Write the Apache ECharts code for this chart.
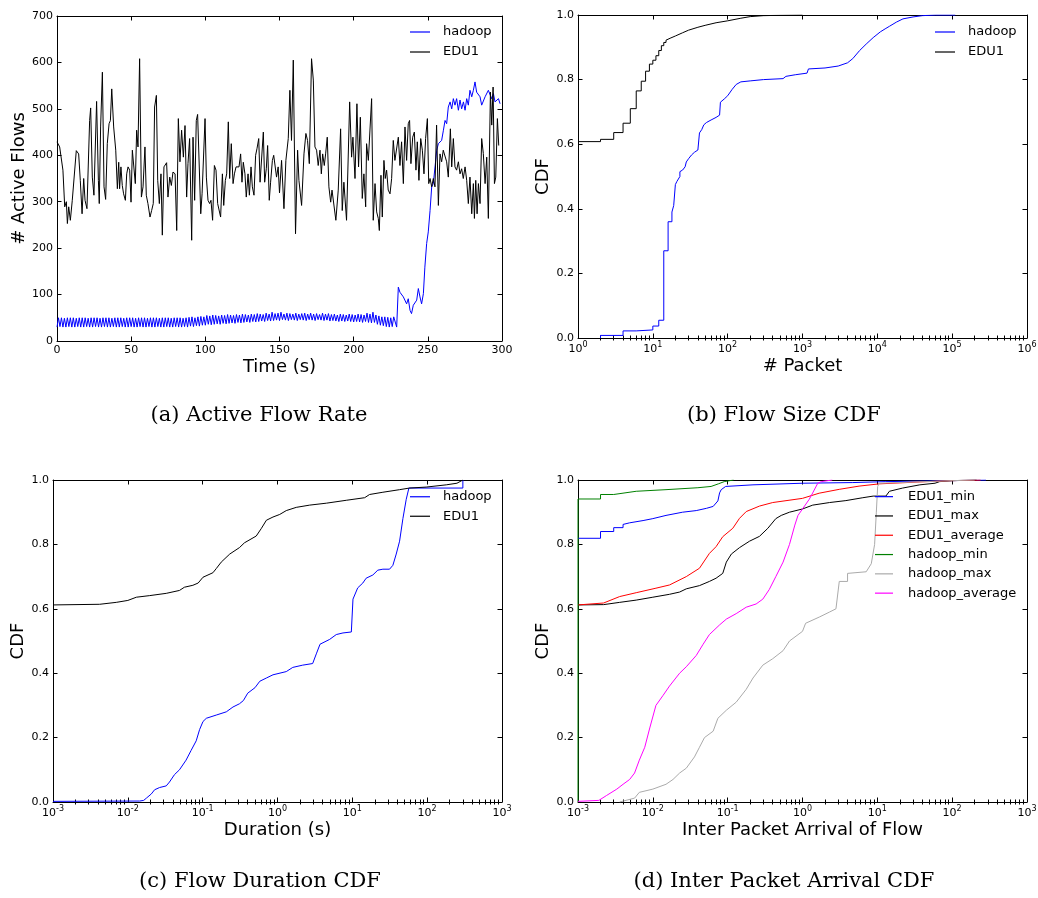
<!DOCTYPE html>
<html><head><meta charset="utf-8">
<script src="https://cdn.jsdelivr.net/npm/echarts@6/dist/echarts.min.js"></script>
<style>html,body{margin:0;padding:0;background:#fff}#c{width:1038px;height:898px}</style>
</head><body><div id="c"></div>
<script>
// ---------------- DATA ----------------
const captions = ['(a) Active Flow Rate', '(b) Flow Size CDF', '(c) Flow Duration CDF', '(d) Inter Packet Arrival CDF'];
const axisNames = {
  a: ['Time (s)', '# Active Flows'],
  b: ['# Packet', 'CDF'],
  c: ['Duration (s)', 'CDF'],
  d: ['Inter Packet Arrival of Flow', 'CDF']
};
const namesAB = ['hadoop', 'EDU1'];
const namesD = ['EDU1_min', 'EDU1_max', 'EDU1_average', 'hadoop_min', 'hadoop_max', 'hadoop_average'];

// (a) hadoop active flows, one value per second for t = 0..229
const hadoopHead = [
  30,50,31,50,30,49,30,50,31,50, 30,50,30,49,31,50,30,50,30,50,
  31,49,30,50,30,50,31,50,30,49, 30,50,31,50,30,50,30,49,31,50,
  30,50,30,50,31,49,30,50,30,50, 31,50,30,49,30,50,31,50,30,50,
  30,49,31,50,30,50,30,50,31,49, 30,50,30,50,31,50,30,49,30,50,
  31,50,30,50,30,49,31,50,30,51, 32,52,31,50,33,52,32,53,34,52,
  34,55,36,54,35,56,36,55,37,54, 36,56,38,55,37,57,38,56,39,55,
  38,57,40,56,39,58,40,57,41,56, 40,58,42,57,41,59,42,58,43,57,
  42,60,44,58,43,62,44,59,45,60, 44,62,46,58,45,60,44,59,46,58,
  45,60,44,58,46,59,45,60,44,58, 46,60,45,58,44,59,46,57,45,60,
  44,58,45,59,43,57,44,58,43,56, 42,58,43,57,42,56,43,58,42,57,
  41,56,42,58,41,57,40,56,42,60, 40,58,39,62,40,56,36,54,34,52,
  33,52,31,51,30,50,31,52,50,30
];
// (a) hadoop after the ramp: [time s, flows]
const hadoopTail = [[230.1,116],[231.2,105],[232.3,109],[233.5,95],[234.6,98],[235.7,80],[236.8,91],[238,66],[239,59],[240.2,77],[241.3,73],[242.5,88],[243.6,113],[244.7,95],[245.8,80],[247,102],[248,159],[249.2,210],[250.3,235],[251.5,281],[252.6,332],[253.7,339],[254.8,335],[256,411],[257.1,425],[258.2,429],[259.3,432],[260.5,454],[261.6,475],[262.7,468],[263.8,504],[265,515],[266.1,500],[267.2,522],[268.3,508],[269.4,522],[270.6,497],[271.7,519],[272.8,500],[274,515],[275.1,497],[276.2,522],[277.3,508],[278.4,540],[279.6,526],[280.7,540],[281.8,558],[282.9,536],[284,533],[285.2,526],[286.3,508],[287.4,508],[288.6,526],[289.7,529],[290.8,540],[291.9,536],[293,522],[294.2,533],[295.3,515],[296.4,511],[297.6,522],[298.7,511]];
// (a) EDU1 active flows: [time s, flows]
const edu1Flows = [[0,429],[1.8,418],[4.0,368],[5.2,289],[6.3,300],[7.0,253],[7.9,289],[9.0,260],[10.3,303],[11.2,304],[13.0,410],[14.6,403],[15.7,346],[16.9,274],[18.0,350],[18.9,303],[20.2,285],[21.1,281],[22.0,475],[22.7,502],[23.8,353],[24.9,314],[26.7,516],[27.9,346],[28.5,296],[29.4,461],[30.6,579],[31.7,332],[32.8,305],[33.9,425],[35.1,468],[36.0,475],[36.9,543],[38.2,461],[39.6,411],[40.7,328],[41.6,385],[42.2,328],[43.1,375],[44.0,335],[44.9,317],[46.1,303],[47.0,360],[47.9,375],[49.0,368],[49.9,299],[50.8,411],[51.9,409],[52.8,339],[53.7,454],[54.6,418],[55.7,608],[56.9,310],[58.0,332],[59.3,418],[60.2,314],[61.3,296],[62.7,267],[63.8,281],[64.9,296],[65.8,504],[67.0,529],[67.9,346],[69.0,296],[70.1,360],[71.0,228],[72.1,375],[73.0,378],[73.9,384],[74.8,310],[76.0,353],[77.1,335],[78.2,364],[79.6,360],[80.7,238],[81.8,479],[82.9,386],[84.0,454],[85.2,396],[86.3,464],[87.4,310],[88.3,382],[89.4,436],[90.8,217],[91.7,439],[92.8,303],[93.9,475],[94.8,488],[96.0,486],[96.9,274],[97.8,317],[98.9,317],[99.8,479],[100.7,353],[101.8,303],[102.9,296],[103.8,303],[104.9,260],[106.1,378],[107.2,368],[108.3,296],[109.2,296],[110.3,267],[111.5,360],[112.4,292],[113.5,346],[114.4,360],[115.5,472],[116.4,350],[117.5,425],[118.7,339],[119.6,360],[120.7,375],[121.8,371],[122.7,375],[123.8,403],[124.7,342],[125.6,385],[126.7,360],[127.6,310],[128.8,360],[129.7,314],[130.8,375],[131.7,332],[132.8,314],[133.9,400],[134.8,414],[136.0,436],[136.9,342],[138.0,342],[139.1,450],[140.0,342],[141.1,371],[142.0,421],[143.1,303],[144.0,342],[145.2,389],[146.1,400],[148.0,353],[149.1,375],[150.0,319],[151.4,389],[153.0,285],[154.3,389],[155.9,436],[157.0,540],[158.1,432],[159.3,605],[160.8,231],[162.2,411],[163.1,346],[164.2,342],[164.9,292],[166.5,403],[167.8,447],[168.9,432],[170.1,382],[171.6,608],[172.8,562],[173.9,418],[175.0,411],[176.1,378],[177.3,411],[178.2,360],[179.1,403],[180.2,378],[181.1,403],[182.2,439],[183.3,332],[184.5,299],[185.4,325],[186.5,325],[188.0,260],[189.6,325],[191.2,457],[192.3,281],[193.4,342],[195.2,260],[197.3,515],[198.6,396],[199.5,439],[200.9,350],[202.2,511],[203.3,375],[204.5,482],[205.8,307],[206.9,360],[208.1,289],[208.7,425],[209.9,389],[211.0,386],[212.1,522],[213.2,260],[214.4,339],[215.5,278],[216.6,264],[217.3,238],[218.4,357],[219.3,267],[220.4,389],[221.3,350],[222.2,368],[223.3,325],[224.5,317],[225.6,350],[226.7,432],[227.8,389],[229.0,386],[230.1,439],[231.2,378],[232.3,429],[233.5,339],[234.6,461],[235.7,389],[236.8,468],[237.7,475],[238.6,382],[239.8,439],[240.9,450],[242.0,368],[242.9,429],[244.0,346],[245.2,436],[246.3,411],[247.4,360],[248.5,436],[249.7,479],[250.6,339],[251.5,350],[252.6,332],[253.7,350],[254.8,332],[255.9,465],[257.1,292],[258.2,403],[259.3,386],[260.4,411],[261.6,407],[262.7,386],[263.8,353],[265.2,457],[266.1,375],[267.2,436],[268.3,375],[269.4,368],[270.6,386],[271.7,360],[272.8,371],[273.9,350],[275.1,375],[276.2,346],[277.3,296],[278.4,353],[279.6,274],[280.7,339],[281.4,264],[282.3,346],[283.2,274],[284.1,339],[285.2,296],[286.3,436],[287.4,404],[288.6,339],[289.7,396],[290.8,264],[292.2,536],[293.1,465],[294.0,547],[294.9,339],[295.8,353],[296.9,479],[297.8,421]];

// (b) flow size CDF: [packets, cdf]
const sizeHadoop = [[2,0],[2,0.008],[4,0.008],[4,0.022],[6,0.022],[6,0.025],[10,0.025],[10,0.037],[12,0.037],[12,0.055],[14,0.055],[14,0.27],[16,0.27],[16,0.36],[18,0.36],[18,0.39],[19,0.39],[19,0.41],[20,0.41],[20,0.475],[21,0.485],[22,0.49],[23,0.5],[23,0.515],[25,0.52],[27,0.53],[28,0.545],[30,0.555],[33,0.567],[36,0.575],[40,0.582],[42,0.585],[42,0.635],[45,0.645],[48,0.66],[52,0.667],[60,0.675],[70,0.683],[78,0.69],[80,0.73],[90,0.74],[100,0.75],[115,0.77],[130,0.785],[150,0.793],[200,0.796],[300,0.8],[550,0.803],[600,0.81],[800,0.815],[1150,0.82],[1200,0.833],[2000,0.836],[3000,0.842],[4000,0.852],[4700,0.865],[5800,0.89],[7100,0.91],[8800,0.93],[11000,0.948],[12700,0.957],[14500,0.965],[18000,0.978],[22000,0.988],[30000,0.994],[40000,0.998],[60000,1.0],[110000,1.0]];
const sizeEdu1 = [[1,0.608],[2,0.608],[2,0.615],[3,0.615],[3,0.636],[4,0.636],[4,0.665],[5,0.665],[5,0.71],[6,0.71],[6,0.765],[7,0.765],[7,0.795],[8,0.795],[8,0.826],[9,0.826],[9,0.848],[10,0.848],[10,0.86],[11,0.86],[11,0.874],[12,0.874],[12,0.89],[13,0.89],[13,0.905],[14,0.905],[14,0.915],[15,0.915],[15,0.922],[17,0.928],[20,0.935],[25,0.945],[30,0.953],[40,0.962],[50,0.968],[70,0.976],[100,0.982],[150,0.99],[200,0.995],[300,0.998],[500,0.999],[1000,1.0]];

// (c) flow duration CDF: [seconds, cdf]
const durHadoop = [[0.001,0.002],[0.0144,0.003],[0.0163,0.005],[0.0177,0.012],[0.0206,0.025],[0.0228,0.038],[0.0266,0.045],[0.0326,0.05],[0.036,0.062],[0.042,0.085],[0.049,0.1],[0.06,0.13],[0.07,0.16],[0.082,0.19],[0.091,0.225],[0.101,0.25],[0.112,0.26],[0.152,0.27],[0.207,0.28],[0.254,0.295],[0.31,0.305],[0.35,0.315],[0.4,0.338],[0.5,0.355],[0.58,0.375],[0.71,0.385],[0.87,0.395],[1.31,0.405],[1.6,0.418],[2.17,0.425],[2.95,0.43],[3.3,0.46],[3.7,0.49],[4.98,0.505],[6.1,0.52],[7.5,0.525],[9.7,0.528],[10.2,0.63],[11.8,0.665],[13.8,0.68],[15.3,0.695],[18.8,0.705],[21.9,0.72],[25.6,0.723],[31.4,0.723],[34.8,0.735],[38.6,0.77],[42.8,0.81],[47.4,0.88],[52.5,0.94],[57,0.975],[300,0.975],[300,1.0]];
const durEdu1 = [[0.001,0.612],[0.0042,0.614],[0.007,0.62],[0.01,0.626],[0.013,0.636],[0.0196,0.641],[0.0326,0.648],[0.049,0.657],[0.057,0.667],[0.074,0.673],[0.087,0.68],[0.101,0.698],[0.137,0.712],[0.152,0.725],[0.177,0.745],[0.23,0.77],[0.31,0.79],[0.362,0.805],[0.52,0.826],[0.61,0.85],[0.71,0.875],[0.87,0.885],[1.07,0.893],[1.31,0.905],[1.78,0.915],[2.69,0.922],[4.5,0.928],[8.3,0.937],[14.6,0.945],[17,0.955],[25.6,0.962],[42.8,0.97],[58,0.975],[97,0.978],[180,0.985],[250,0.99],[300,1.0]];

// (d) inter packet arrival CDF: [seconds, cdf]
const ipaEdu1Min = [[0.001,0.819],[0.002,0.819],[0.002,0.84],[0.003,0.84],[0.003,0.852],[0.004,0.852],[0.004,0.862],[0.0049,0.867],[0.0074,0.874],[0.01,0.88],[0.015,0.89],[0.025,0.9],[0.038,0.905],[0.052,0.912],[0.064,0.918],[0.074,0.935],[0.078,0.96],[0.082,0.97],[0.094,0.98],[0.218,0.985],[1.0,0.99],[4.7,0.992],[13,0.995],[100,0.998],[283,1.0]];
const ipaEdu1Max = [[0.001,0.612],[0.0022,0.613],[0.0036,0.62],[0.006,0.627],[0.01,0.636],[0.0167,0.645],[0.0228,0.652],[0.028,0.662],[0.042,0.672],[0.057,0.685],[0.07,0.695],[0.086,0.71],[0.096,0.745],[0.112,0.77],[0.144,0.79],[0.196,0.81],[0.266,0.825],[0.344,0.85],[0.44,0.88],[0.52,0.89],[0.67,0.9],[1.0,0.91],[1.37,0.922],[2.3,0.93],[3.8,0.936],[6.4,0.945],[8.8,0.95],[13,0.95],[14.5,0.965],[21.8,0.975],[37,0.985],[59,0.99],[68,0.995],[100,0.998],[212,1.0]];
const ipaEdu1Avg = [[0.001,0.612],[0.0022,0.618],[0.0036,0.638],[0.006,0.65],[0.011,0.664],[0.0167,0.674],[0.028,0.7],[0.042,0.726],[0.057,0.772],[0.07,0.793],[0.086,0.824],[0.117,0.85],[0.144,0.881],[0.177,0.902],[0.266,0.919],[0.4,0.93],[1.0,0.943],[1.67,0.959],[3.1,0.971],[5.7,0.981],[10.6,0.988],[37,0.994],[100,0.998],[240,1.0]];
const ipaHadoopMin = [[0.001,0],[0.001,0.941],[0.002,0.941],[0.002,0.955],[0.003,0.955],[0.003,0.96],[0.006,0.965],[0.015,0.97],[0.04,0.976],[0.06,0.98],[0.075,0.988],[0.09,0.995],[0.12,1.0]];
const ipaHadoopMax = [[0.0036,0],[0.0057,0.012],[0.0066,0.03],[0.01,0.04],[0.015,0.055],[0.0186,0.07],[0.0228,0.09],[0.028,0.105],[0.036,0.14],[0.042,0.17],[0.049,0.2],[0.064,0.22],[0.074,0.26],[0.096,0.285],[0.13,0.31],[0.177,0.35],[0.218,0.385],[0.295,0.425],[0.4,0.445],[0.55,0.47],[0.67,0.5],[1.0,0.53],[1.1,0.555],[1.7,0.575],[2.3,0.59],[2.8,0.6],[3.1,0.685],[4.0,0.685],[4.0,0.71],[7.1,0.715],[8.3,0.74],[9.2,0.8],[9.7,0.9],[10.1,0.98],[10.6,0.99],[100,0.998],[200,1.0]];
const ipaHadoopAvg = [[0.001,0.002],[0.0019,0.005],[0.0024,0.02],[0.0033,0.04],[0.004,0.055],[0.0049,0.07],[0.0057,0.09],[0.0066,0.13],[0.0078,0.17],[0.0091,0.23],[0.011,0.3],[0.0136,0.33],[0.0167,0.36],[0.0228,0.4],[0.028,0.42],[0.038,0.455],[0.047,0.49],[0.057,0.52],[0.078,0.55],[0.096,0.568],[0.13,0.585],[0.177,0.605],[0.24,0.615],[0.295,0.63],[0.36,0.66],[0.44,0.7],[0.55,0.745],[0.67,0.8],[0.79,0.86],[0.87,0.89],[1.0,0.91],[1.23,0.94],[1.37,0.96],[1.6,0.99],[1.78,0.995],[2.5,1.0]];

// ---------------- CHART ----------------
const BLACK = '#000';
const FONT = 'DejaVu Sans';
const COL = {hadoop:'#0000ff', EDU1:'#000000', EDU1_min:'#0000ff', EDU1_max:'#000000', EDU1_average:'#ff0000', hadoop_min:'#008000', hadoop_max:'#aaaaaa', hadoop_average:'#ff00ff'};

const grids = [
  {left:57, top:16, width:445, height:325},
  {left:578, top:15, width:449, height:323},
  {left:53, top:480, width:449, height:322},
  {left:578, top:480, width:449, height:322}
];
const xAxes = [], yAxes = [], series = [];

function line() { return {show:true, onZero:false, lineStyle:{color:BLACK, width:1}}; }
function tick(len, extra) { return Object.assign({show:true, inside:true, length:len, lineStyle:{color:BLACK, width:1}}, extra || {}); }
const logRich = {
  b:{fontFamily:FONT, fontSize:11, color:BLACK, lineHeight:14, verticalAlign:'bottom'},
  s:{fontFamily:FONT, fontSize:8, color:BLACK, lineHeight:8, verticalAlign:'top'}
};
function logFmt(v) { return '{b|10}{s|' + Math.round(Math.log10(v)) + '}'; }
function minorLog(lo, hi) {
  const out = [];
  for (let e = Math.round(Math.log10(lo)); e < Math.round(Math.log10(hi)); e++)
    for (let m = 2; m <= 9; m++) out.push(e + Math.log10(m));
  return out;
}

function addX(g, c) {
  const base = () => {
    const o = {gridIndex:g, min:c.min, max:c.max, splitLine:{show:false}, axisLine:line(), axisTick:tick(4.5)};
    if (c.log) { o.type = 'log'; o.logBase = 10; o.splitNumber = Math.round(Math.log10(c.max / c.min)); }
    else { o.type = 'value'; o.interval = c.interval; }
    return o;
  };
  const idx = xAxes.length;
  const bottom = Object.assign(base(), {
    position:'bottom', name:c.name, nameLocation:'middle', nameGap:c.nameGap,
    nameTextStyle:{fontFamily:FONT, fontSize:18, color:BLACK},
    axisLabel: c.log
      ? {show:true, margin:3, formatter:logFmt, rich:logRich}
      : {show:true, margin:4, fontFamily:FONT, fontSize:11, color:BLACK, formatter: v => String(v)}
  });
  const top = Object.assign(base(), {position:'top', axisLabel:{show:false}});
  xAxes.push(bottom, top);
  if (c.log) {
    const mk = pos => ({gridIndex:g, type:'value', position:pos, min:Math.log10(c.min), max:Math.log10(c.max),
      axisLine:{show:false}, axisLabel:{show:false}, splitLine:{show:false},
      axisTick:tick(2.5, {customValues:minorLog(c.min, c.max)})});
    xAxes.push(mk('bottom'), mk('top'));
  }
  return idx;
}
function addY(g, c) {
  const base = () => ({gridIndex:g, type:'value', min:c.min, max:c.max, interval:c.interval, splitLine:{show:false}, axisLine:line(), axisTick:tick(4.5)});
  const idx = yAxes.length;
  yAxes.push(Object.assign(base(), {
    position:'left', name:c.name, nameLocation:'middle', nameGap:c.nameGap,
    nameTextStyle:{fontFamily:FONT, fontSize:18, color:BLACK},
    axisLabel:{show:true, margin:4, fontFamily:FONT, fontSize:11, color:BLACK, formatter:c.fmt}
  }));
  yAxes.push(Object.assign(base(), {position:'right', axisLabel:{show:false}}));
  return idx;
}
function addLine(name, xi, yi, data, z) {
  series.push({type:'line', name, xAxisIndex:xi, yAxisIndex:yi, data, showSymbol:false, symbol:'none',
    color:COL[name], itemStyle:{color:COL[name]}, lineStyle:{color:COL[name], width:1},
    animation:false, silent:true, z:z || 2});
}

// panel a
let xi = addX(0, {min:0, max:300, interval:50, name:axisNames.a[0], nameGap:17});
let yi = addY(0, {min:0, max:700, interval:100, name:axisNames.a[1], nameGap:28, fmt:v => String(v)});
addLine('hadoop', xi, yi, hadoopHead.map((v, i) => [i, v]).concat(hadoopTail));
addLine('EDU1', xi, yi, edu1Flows);
// panel b
xi = addX(1, {log:true, min:1, max:1e6, name:axisNames.b[0], nameGap:19});
yi = addY(1, {min:0, max:1, interval:0.2, name:axisNames.b[1], nameGap:26, fmt:v => v.toFixed(1)});
addLine('hadoop', xi, yi, sizeHadoop);
addLine('EDU1', xi, yi, sizeEdu1);
// panel c
xi = addX(2, {log:true, min:1e-3, max:1e3, name:axisNames.c[0], nameGap:19});
yi = addY(2, {min:0, max:1, interval:0.2, name:axisNames.c[1], nameGap:25, fmt:v => v.toFixed(1)});
addLine('hadoop', xi, yi, durHadoop);
addLine('EDU1', xi, yi, durEdu1);
// panel d
xi = addX(3, {log:true, min:1e-3, max:1e3, name:axisNames.d[0], nameGap:19});
yi = addY(3, {min:0, max:1, interval:0.2, name:axisNames.d[1], nameGap:26, fmt:v => v.toFixed(1)});
[ipaEdu1Min, ipaEdu1Max, ipaEdu1Avg, ipaHadoopMin, ipaHadoopMax, ipaHadoopAvg].forEach((d, i) => addLine(namesD[i], xi, yi, d));

function legend(names, left, top, lh, gapText, w) {
  return {data:names, orient:'vertical', left, top, padding:0, itemGap:0, itemWidth:w, itemHeight:1.2,
    icon:'rect', selectedMode:false, backgroundColor:'transparent',
    textStyle:{fontFamily:FONT, fontSize:13, color:BLACK, lineHeight:lh, padding:[0,0,0,gapText]}};
}

const capPos = [[259,416],[784,416],[260,882],[784,882]];

const chart = echarts.init(document.getElementById('c'), null, {renderer:'canvas'});
chart.setOption({
  backgroundColor:'#fff',
  animation:false,
  grid: grids.map(g => Object.assign({containLabel:false, outerBoundsMode:'none'}, g)),
  xAxis: xAxes,
  yAxis: yAxes,
  legend: [
    legend(namesAB, 410, 22, 20, 8, 20),
    legend(namesAB, 935, 22, 20, 8, 20),
    legend(namesAB, 410, 487, 19.5, 8, 20),
    legend(namesD, 875, 487, 19.3, 10, 18)
  ],
  series,
  graphic: captions.map((t, i) => ({type:'text', x:capPos[i][0], y:capPos[i][1],
    style:{text:t, fontFamily:'DejaVu Serif', fontSize:21, fill:BLACK, align:'center', verticalAlign:'middle'}}))
});
</script></body></html>
